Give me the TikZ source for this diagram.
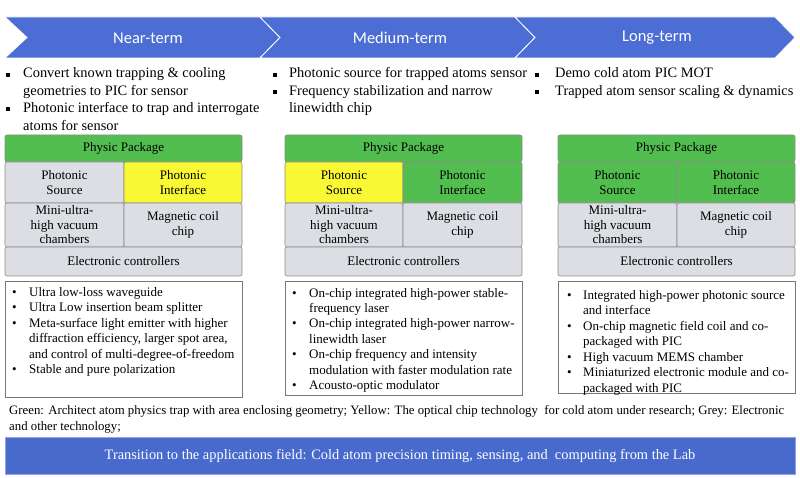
\documentclass[tikz,border=0pt]{standalone}
\usepackage{fontspec}
\setmainfont{Liberation Serif}
\newfontfamily\chevfont{Carlito}
\usepackage{array}
\definecolor{barblue}{RGB}{76,110,212}
\definecolor{botblue}{RGB}{72,106,204}
\definecolor{pgreen}{RGB}{82,190,80}
\definecolor{pyellow}{RGB}{248,248,52}
\definecolor{pgrey}{RGB}{220,222,228}
\definecolor{cellborder}{RGB}{140,140,140}
\definecolor{boxborder}{RGB}{120,120,120}
\newcommand\sqbul{\rule[1.4pt]{4pt}{4pt}}
\tikzset{
  chev/.style={fill=barblue, draw=white, line width=0.8pt},
  chevtext/.style={text=white, font=\chevfont\fontsize{16.5}{18}\selectfont, inner sep=0pt},
  cell/.style={draw=cellborder, rounded corners=2pt, inner sep=0pt, align=center,
     line width=0.6pt, font=\fontsize{13}{14.5}\selectfont},
  listbox/.style={draw=boxborder, fill=white, line width=0.6pt, inner sep=0pt},
  toplist/.style={inner sep=0pt, anchor=base west, font=\fontsize{14.4}{17.4}\selectfont},
  boxlist/.style={inner sep=0pt, anchor=base west, font=\fontsize{13}{15.5}\selectfont},
}
\begin{document}
\begin{tikzpicture}[x=1pt,y=-1pt]
\useasboundingbox (0,0) rectangle (800,478);
% chevrons
\path[chev] (5,17) -- (260,17) -- (280,37.5) -- (260,58) -- (5,58) -- (27,37.5) -- cycle;
\path[chev] (260,17) -- (515,17) -- (535,37.5) -- (515,58) -- (260,58) -- (280,37.5) -- cycle;
\path[chev] (515,17) -- (775,17) -- (795,37.5) -- (775,58) -- (515,58) -- (535,37.5) -- cycle;
\node[chevtext] (t1) at (148,38) {Near-term};
\node[chevtext] (t2) at (400,38) {Medium-term};
\node[chevtext] (t3) at (657,38) {Long-term};
% top bullet lists
\node[toplist] (g1) at (6,78) {\begin{tabular}[t]{@{}l@{}l@{}}
\makebox[17pt][l]{\sqbul} & Convert known trapping \& cooling\\
 & geometries to PIC for sensor\\
\makebox[17pt][l]{\sqbul} & Photonic interface to trap and interrogate\\
 & atoms for sensor
\end{tabular}};
\node[toplist] (g2) at (273,78) {\begin{tabular}[t]{@{}l@{}l@{}}
\makebox[16pt][l]{\sqbul} & Photonic source for trapped atoms sensor\\
\makebox[16pt][l]{\sqbul} & Frequency stabilization and narrow\\
 & linewidth chip
\end{tabular}};
\node[toplist] (g3) at (535,78) {\begin{tabular}[t]{@{}l@{}l@{}}
\makebox[20pt][l]{\sqbul} & Demo cold atom PIC MOT\\
\makebox[20pt][l]{\sqbul} & Trapped atom sensor scaling \& dynamics
\end{tabular}};
% column 1 cells
\node[cell, fill=pgreen, minimum width=237pt, minimum height=27pt] (pp1) at (123.5,148.5) {Physic Package};
\node[cell, fill=pgrey, minimum width=119pt, minimum height=41pt] (ps1) at (64.5,182.5) {Photonic\\Source};
\node[cell, fill=pyellow, minimum width=118pt, minimum height=41pt] (pi1) at (183,182.5) {Photonic\\Interface};
\node[cell, fill=pgrey, minimum width=119pt, minimum height=44pt] (mv1) at (64.5,225) {Mini-ultra-\\high vacuum\\chambers};
\node[cell, fill=pgrey, minimum width=118pt, minimum height=44pt] (mc1) at (183,225) {Magnetic coil\\chip};
\node[cell, fill=pgrey, minimum width=237pt, minimum height=29pt] (ec1) at (123.5,261.5) {Electronic controllers};
% column 2 cells
\node[cell, fill=pgreen, minimum width=237pt, minimum height=27pt] (pp2) at (403.5,148.5) {Physic Package};
\node[cell, fill=pyellow, minimum width=118pt, minimum height=41pt] (ps2) at (344,182.5) {Photonic\\Source};
\node[cell, fill=pgreen, minimum width=119pt, minimum height=41pt] (pi2) at (462.5,182.5) {Photonic\\Interface};
\node[cell, fill=pgrey, minimum width=118pt, minimum height=44pt] (mv2) at (344,225) {Mini-ultra-\\high vacuum\\chambers};
\node[cell, fill=pgrey, minimum width=119pt, minimum height=44pt] (mc2) at (462.5,225) {Magnetic coil\\chip};
\node[cell, fill=pgrey, minimum width=237pt, minimum height=29pt] (ec2) at (403.5,261.5) {Electronic controllers};
% column 3 cells
\node[cell, fill=pgreen, minimum width=237pt, minimum height=27pt] (pp3) at (676.5,148.5) {Physic Package};
\node[cell, fill=pgreen, minimum width=119pt, minimum height=41pt] (ps3) at (617.5,182.5) {Photonic\\Source};
\node[cell, fill=pgreen, minimum width=118pt, minimum height=41pt] (pi3) at (736,182.5) {Photonic\\Interface};
\node[cell, fill=pgrey, minimum width=119pt, minimum height=44pt] (mv3) at (617.5,225) {Mini-ultra-\\high vacuum\\chambers};
\node[cell, fill=pgrey, minimum width=118pt, minimum height=44pt] (mc3) at (736,225) {Magnetic coil\\chip};
\node[cell, fill=pgrey, minimum width=237pt, minimum height=29pt] (ec3) at (676.5,261.5) {Electronic controllers};
% bottom boxes
\node[listbox, minimum width=237pt, minimum height=116pt] (b1) at (123.5,339) {};
\node[listbox, minimum width=237pt, minimum height=114pt] (b2) at (403.5,338) {};
\node[listbox, minimum width=237pt, minimum height=112pt] (b3) at (676.5,337) {};
\node[boxlist] (l1) at (12,296) {\begin{tabular}[t]{@{}l@{}l@{}}
\makebox[17pt][l]{\textbullet} & Ultra low-loss waveguide\\
\makebox[17pt][l]{\textbullet} & Ultra Low insertion beam splitter\\
\makebox[17pt][l]{\textbullet} & Meta-surface light emitter with higher\\
 & diffraction efficiency, larger spot area,\\
 & and control of multi-degree-of-freedom\\
\makebox[17pt][l]{\textbullet} & Stable and pure polarization
\end{tabular}};
\node[boxlist] (l2) at (292,297) {\begin{tabular}[t]{@{}l@{}l@{}}
\makebox[17pt][l]{\textbullet} & On-chip integrated high-power stable-\\
 & frequency laser\\
\makebox[17pt][l]{\textbullet} & On-chip integrated high-power narrow-\\
 & linewidth laser\\
\makebox[17pt][l]{\textbullet} & On-chip frequency and intensity\\
 & modulation with faster modulation rate\\
\makebox[17pt][l]{\textbullet} & Acousto-optic modulator
\end{tabular}};
\node[boxlist] (l3) at (567,299) {\begin{tabular}[t]{@{}l@{}l@{}}
\makebox[16pt][l]{\textbullet} & Integrated high-power photonic source\\
 & and interface\\
\makebox[16pt][l]{\textbullet} & On-chip magnetic field coil and co-\\
 & packaged with PIC\\
\makebox[16pt][l]{\textbullet} & High vacuum MEMS chamber\\
\makebox[16pt][l]{\textbullet} & Miniaturized electronic module and co-\\
 & packaged with PIC
\end{tabular}};
% legend
\node[inner sep=0pt, anchor=base west, font=\fontsize{12.8}{16}\selectfont] (leg) at (9,414)
 {\begin{tabular}[t]{@{}l@{}}Green: Architect atom physics trap with area enclosing geometry; Yellow: The optical chip technology\ \ for cold atom under research; Grey: Electronic\\and other technology;\end{tabular}};
% bottom bar
\node[fill=botblue, draw=botblue!60, line width=0.6pt, minimum width=790pt, minimum height=37pt, inner sep=0pt,
  text=white, font=\fontsize{14.4}{16}\selectfont] (bar) at (400,455.5)
 {Transition to the applications field: Cold atom precision timing, sensing, and\ \ computing from the Lab};
\end{tikzpicture}
\end{document}
